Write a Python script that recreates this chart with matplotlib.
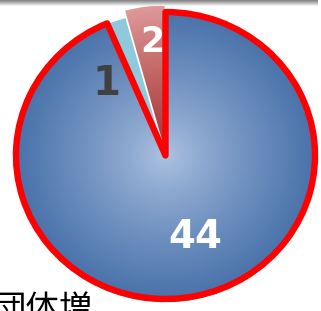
import numpy as np
import matplotlib.pyplot as plt
from matplotlib.patches import Wedge

plt.rcParams['font.family'] = ['DejaVu Sans']

# datos del grafico
values = [44, 1, 2]
labels = ['44', '1', '2']
colors = ['#5a85bf', '#8ecadb', '#c96a6a']
explode = [0, 0, 0.045]
caption = '団体増'

W, H = 321, 311
cx, cy = 165.5, 155.5   # centro del pastel en pixeles
rx, ry = 149.5, 143.5   # radios en pixeles (un poco eliptico)

fig = plt.figure(figsize=(W / 100, H / 100), dpi=100)
ax = fig.add_axes([0, 0, 1, 1])


def px(x, y):
    # pixel de la imagen -> coordenadas de datos
    return (x - cx) / rx, (cy - y) / ry


# sombra debajo del pastel
shadow = Wedge((0, -3 / ry), 1, 0, 360, facecolor='#4a6fa5', edgecolor='none', zorder=1)
ax.add_patch(shadow)

wedges, _ = ax.pie(values, startangle=90, counterclock=False, colors=colors,
                   explode=explode, radius=1,
                   wedgeprops=dict(edgecolor='white', linewidth=1.2))
for w in wedges:
    w.set_zorder(2)

ax.set_aspect('auto')
ax.axis('off')

# degradado radial para la porcion grande
n = 300
g = np.linspace(-1.1, 1.1, n)
xx, yy = np.meshgrid(g, g)
rr = np.clip(np.sqrt(xx ** 2 + yy ** 2), 0, 1)
c0 = np.array([0.69, 0.77, 0.89])
c1 = np.array([0.29, 0.45, 0.67])
blue = c0 + (c1 - c0) * (rr[..., None] ** 0.8)
im = ax.imshow(blue, extent=[-1.1, 1.1, -1.1, 1.1], origin='lower', zorder=3,
               interpolation='bilinear')
im.set_clip_path(wedges[0])

# degradado para la porcion roja (mas clara afuera)
r0 = np.array([0.66, 0.22, 0.22])
r1 = np.array([0.87, 0.60, 0.60])
red = r0 + (r1 - r0) * (rr[..., None] ** 1.2)
ex, ey = wedges[2].center
im2 = ax.imshow(red, extent=[ex - 1.1, ex + 1.1, ey - 1.1, ey + 1.1], origin='lower',
                zorder=3, interpolation='bilinear')
im2.set_clip_path(wedges[2])

# contorno rojo de la porcion de 44
w0 = wedges[0]
ring = Wedge(w0.center, w0.r, w0.theta1, w0.theta2, facecolor='none',
             edgecolor='#ff0000', linewidth=4.6, joinstyle='round', zorder=5)
ax.add_patch(ring)

# etiquetas
ax.text(*px(195, 237), labels[0], color='white', fontsize=28, fontweight='bold',
        ha='center', va='center', zorder=6)
ax.text(*px(106, 84), labels[1], color='#404040', fontsize=29, fontweight='bold',
        ha='center', va='center', zorder=6)
ax.text(*px(152, 42), labels[2], color='white', fontsize=25, fontweight='bold',
        ha='center', va='center', zorder=6)

# barra gris arriba
bar = np.linspace(0.5, 0.97, 20)[:, None] * np.ones((1, 50))
x0, y0 = px(0, 0)
x1, y1 = px(318, 6)
ax.imshow(bar, cmap='gray', vmin=0, vmax=1, extent=[x0, x1, y1, y0], origin='upper',
          aspect='auto', zorder=7, interpolation='bilinear')
ax.set_xlim(-cx / rx, (W - cx) / rx)
ax.set_ylim(-(H - cy) / ry, cy / ry)

# texto cortado abajo (como en la imagen original)
ax.text(*px(-8, 292), caption, color='black', fontsize=24,
        family=['Noto Sans CJK JP', 'DejaVu Sans'], ha='left', va='top', zorder=8)

fig.savefig('out.png', dpi=100)
